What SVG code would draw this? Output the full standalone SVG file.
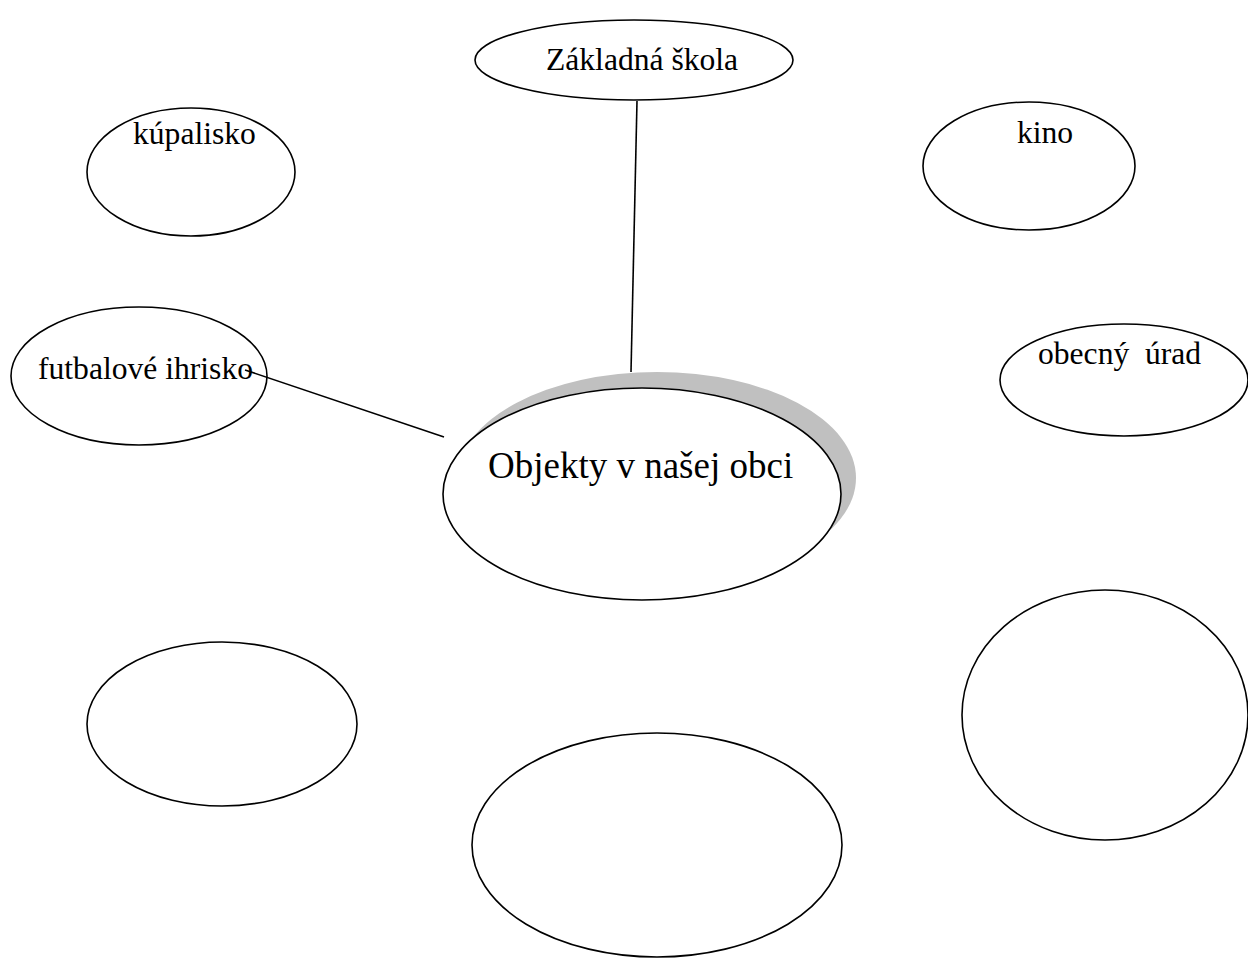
<svg xmlns="http://www.w3.org/2000/svg" width="1248" height="958" viewBox="0 0 1248 958">
<style>
.n{fill:#fff;stroke:#000;stroke-width:1.6}
.t{font-family:"Liberation Serif","Times New Roman",serif;font-size:31.6px;fill:#000}
.big{font-size:37px}
.c{stroke:#000;stroke-width:1.6;fill:none}
</style>
<rect width="1248" height="958" fill="#fff"/>
<g id="node-zakladna-skola"><ellipse class="n" cx="634" cy="60" rx="159" ry="40"/><text class="t" x="546" y="70">Základná škola</text></g>
<g id="node-kupalisko"><ellipse class="n" cx="191" cy="172" rx="104" ry="64"/><text class="t" x="133" y="144">kúpalisko</text></g>
<g id="node-kino"><ellipse class="n" cx="1029" cy="166" rx="106" ry="64"/><text class="t" x="1017" y="143">kino</text></g>
<g id="node-futbalove-ihrisko"><ellipse class="n" cx="139" cy="376" rx="128" ry="69"/><text class="t" x="38" y="379">futbalové ihrisko</text></g>
<g id="node-obecny-urad"><ellipse class="n" cx="1124" cy="380" rx="124" ry="56"/><text class="t" x="1038" y="364" xml:space="preserve">obecný  úrad</text></g>
<g id="node-objekty"><ellipse cx="657" cy="478" rx="199" ry="106" fill="#c0c0c0"/><ellipse class="n" cx="642" cy="494" rx="199" ry="106"/><text class="t big" x="488" y="478">Objekty v našej obci</text></g>
<g id="node-empty-1"><ellipse class="n" cx="222" cy="724" rx="135" ry="82"/></g>
<g id="node-empty-2"><ellipse class="n" cx="657" cy="845" rx="185" ry="112"/></g>
<g id="node-empty-3"><ellipse class="n" cx="1105" cy="715" rx="143" ry="125"/></g>
<g id="connectors">
<line class="c" x1="637" y1="101" x2="631" y2="372"/>
<line class="c" x1="245" y1="370" x2="444" y2="437"/>
</g>
</svg>
